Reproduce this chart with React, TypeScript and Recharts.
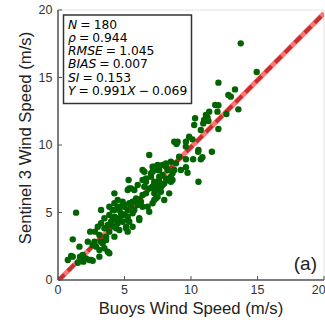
import React from "react";
import {
  ScatterChart,
  Scatter,
  XAxis,
  YAxis,
  CartesianGrid,
  ReferenceLine,
} from "recharts";

const buoySpeed: number[] = [
  1.36, 1.11, 0.99, 0.74, 1.49, 1.61, 2.42, 2.79, 2.24, 2.61, 1.86, 2.11, 2.36, 2.61, 1.91, 1.66,
  3.11, 3.24, 3.36, 3.62, 3.49, 3.11, 3.74, 2.87, 3.74, 3.99, 4.24, 4.11, 4.49, 4.86, 4.99, 4.61,
  5.12, 5.24, 4.37, 3.86, 3.62, 4.24, 5.31, 5.24, 5.49, 3.24, 3.86, 4.24, 4.49, 4.86, 4.99, 5.36,
  5.61, 5.87, 6.11, 6.36, 6.62, 6.86, 7.11, 7.37, 7.61, 7.86, 6.99, 6.62, 6.36, 7.24, 7.49, 8.12,
  7.74, 7.37, 7.11, 6.86, 6.11, 5.61, 5.24, 4.86, 4.49, 4.11, 3.86, 4.24, 4.61, 5.12, 5.61, 5.36,
  5.99, 6.36, 7.24, 8.74, 8.91, 9.62, 9.86, 10.11, 10.24, 10.31, 10.92, 11.24, 10.56, 10.74, 10.16, 9.62,
  9.62, 9.74, 10.56, 6.86, 9.11, 8.87, 8.49, 8.12, 7.86, 7.49, 7.11, 6.49, 6.62, 7.11, 7.61, 8.24,
  8.61, 8.61, 8.12, 7.61, 7.24, 6.49, 7.11, 7.86, 8.49, 9.24, 12.06, 12.81, 12.99, 13.31, 13.56, 11.82,
  12.06, 11.37, 11.99, 11.12, 10.99, 12.66, 11.31, 10.74, 12.06, 13.74, 14.94, 11.57, 10.54, 10.86, 5.36, 5.74,
  5.99, 6.36, 6.99, 7.24, 7.49, 7.74, 7.99, 8.24, 8.49, 8.74, 8.36, 7.99, 7.49, 7.24, 6.74, 6.24,
  5.86, 5.49, 4.99, 4.61, 4.24, 3.86, 3.49, 3.24, 2.99, 4.24, 3.49, 4.74, 5.24, 4.86, 5.24, 4.49,
  6.11, 5.74, 3.86, 3.11, 2.49, 1.11, 2.74, 8.99, 9.61,
];

const sentinelSpeed: number[] = [
  4.99, 3.01, 1.78, 1.48, 1.28, 2.47, 3.58, 3.58, 2.84, 2.59, 1.85, 1.6, 1.48, 1.43, 1.36, 1.73,
  3.33, 2.84, 2.72, 3.21, 2.35, 2.22, 2.1, 2.47, 4.07, 4.32, 4.69, 5.19, 5.43, 5.56, 4.81, 4.44,
  3.95, 3.58, 3.83, 3.58, 2.96, 6.42, 7.41, 6.67, 6.79, 5.19, 5.43, 5.68, 5.93, 5.8, 5.43, 5.68,
  5.8, 6.05, 5.93, 6.3, 6.42, 6.79, 6.91, 7.04, 7.28, 7.78, 7.9, 7.53, 8.15, 8.39, 8.15, 8.39,
  6.54, 6.05, 5.68, 5.06, 4.57, 4.94, 4.69, 4.81, 4.57, 4.44, 4.07, 3.95, 3.7, 3.83, 3.95, 4.32,
  5.56, 5.43, 6.42, 10.24, 10.07, 10.24, 10.61, 10.42, 11.48, 11.98, 11.6, 12.05, 9.63, 8.94, 8.94, 8.94,
  8.35, 7.95, 7.28, 9.26, 9.13, 8.64, 8.76, 8.64, 8.52, 8.52, 8.39, 8.02, 7.28, 8.02, 8.15, 8.15,
  7.9, 7.41, 7.53, 7.65, 7.28, 6.91, 6.79, 7.04, 7.28, 8.15, 14.62, 13.7, 13.58, 14.12, 12.64, 12.96,
  12.94, 12.47, 12.47, 12.22, 11.85, 12.3, 11.78, 11.11, 11.19, 17.53, 15.41, 9.5, 9.5, 9.09, 6.79, 6.67,
  7.04, 7.41, 7.65, 7.16, 6.67, 6.91, 7.16, 7.41, 7.65, 8.15, 6.42, 5.93, 6.17, 5.93, 5.43, 5.8,
  5.93, 5.56, 5.56, 5.19, 5.19, 4.81, 4.57, 4.2, 3.95, 3.21, 3.83, 4.94, 5.19, 4.32, 4.44, 4.2,
  4.44, 5.19, 1.98, 1.73, 1.48, 1.73, 2.84, 10.25, 9.88,
];

const axisTicks: number[] = [0, 5, 10, 15, 20];
const fitSlope = 0.991;
const fitIntercept = -0.069;
const fitRange: number[] = [0, 20];

const statLines: { name: string; value: string }[] = [
  { name: "N", value: "180" },
  { name: "ρ", value: "0.944" },
  { name: "RMSE", value: "1.045" },
  { name: "BIAS", value: "0.007" },
  { name: "SI", value: "0.153" },
];

const data = buoySpeed.map((x, i) => ({ x, y: sentinelSpeed[i] }));

const tickStyle = { fontSize: 12.5, fill: "#333", fontFamily: "Liberation Sans, Arial, sans-serif" };
const axisStroke = { stroke: "#555", strokeWidth: 1.5 };
const SP = "\u2005";

const Dot = (props: any) => (
  <circle cx={props.cx} cy={props.cy} r={3.2} fill="#006400" />
);

export default function App() {
  const [x0, x1] = fitRange;
  return (
    <div style={{ position: "relative", width: 325, height: 322 }}>
      <style>{`body{margin:0}`}</style>
      <ScatterChart
        width={325}
        height={322}
        margin={{ top: 10, right: 1, left: 0, bottom: 0 }}
      >
        <CartesianGrid stroke="#e3e3e3" strokeWidth={1} />
        <XAxis
          xAxisId="b"
          type="number"
          dataKey="x"
          domain={[0, 20]}
          ticks={axisTicks}
          height={42}
          tickSize={-4}
          tickMargin={9}
          tick={tickStyle}
          axisLine={axisStroke}
          tickLine={{ stroke: "#555" }}
          allowDataOverflow
          label={{
            value: "Buoys Wind Speed (m/s)",
            position: "insideBottom",
            offset: 8,
            style: { fontSize: 16.7, fill: "#222", fontFamily: "Liberation Sans, Arial, sans-serif" },
          }}
        />
        <XAxis
          xAxisId="t"
          orientation="top"
          type="number"
          dataKey="x"
          domain={[0, 20]}
          ticks={axisTicks}
          height={0}
          tickSize={-4}
          tickFormatter={() => ""}
          axisLine={axisStroke}
          tickLine={{ stroke: "#555" }}
          allowDataOverflow
        />
        <YAxis
          yAxisId="l"
          type="number"
          dataKey="y"
          domain={[0, 20]}
          ticks={axisTicks}
          width={58}
          tickSize={-4}
          tickMargin={9.5}
          tick={tickStyle}
          axisLine={axisStroke}
          tickLine={{ stroke: "#555" }}
          allowDataOverflow
          label={{
            value: "Sentinel 3 Wind Speed (m/s)",
            angle: -90,
            position: "insideLeft",
            offset: 25,
            dy: -7,
            style: {
              textAnchor: "middle",
              fontSize: 16.7,
              fill: "#222",
              fontFamily: "Liberation Sans, Arial, sans-serif",
            },
          }}
        />
        <YAxis
          yAxisId="r"
          orientation="right"
          type="number"
          dataKey="y"
          domain={[0, 20]}
          ticks={axisTicks}
          width={0}
          tickSize={-4}
          tickFormatter={() => ""}
          axisLine={axisStroke}
          tickLine={{ stroke: "#555" }}
          allowDataOverflow
        />
        <Scatter
          data={data}
          xAxisId="b"
          yAxisId="l"
          shape={Dot}
          isAnimationActive={false}
        />
        <ReferenceLine
          xAxisId="b"
          yAxisId="l"
          segment={[
            { x: x0, y: fitSlope * x0 + fitIntercept },
            { x: x1, y: fitSlope * x1 + fitIntercept },
          ]}
          stroke="rgba(255,60,60,0.7)"
          strokeWidth={5}
          ifOverflow="hidden"
        />
        <ReferenceLine
          xAxisId="b"
          yAxisId="l"
          segment={[
            { x: x0, y: fitSlope * x0 + fitIntercept },
            { x: x1, y: fitSlope * x1 + fitIntercept },
          ]}
          stroke="#c43030"
          strokeWidth={4}
          strokeDasharray="9 5"
          ifOverflow="hidden"
        />
      </ScatterChart>
      <svg
        width={325}
        height={322}
        style={{ position: "absolute", left: 0, top: 0, pointerEvents: "none" }}
      >
        <rect x={63.5} y={15} width={128} height={88.5} fill="#fff" stroke="#333" strokeWidth={1.5} />
        <g fontFamily="DejaVu Sans, sans-serif" fontSize={12.3} fill="#000">
          {statLines.map((s, i) => (
            <text key={s.name} x={68} y={28.7 + i * 13.2}>
              <tspan fontStyle="italic">{s.name}</tspan>
              {SP + "=" + SP + s.value}
            </text>
          ))}
          <text x={68} y={28.7 + 5 * 13.2}>
            <tspan fontStyle="italic">Y</tspan>
            {SP + "=" + SP + fitSlope.toFixed(3)}
            <tspan fontStyle="italic">X</tspan>
            {SP + "−" + SP + Math.abs(fitIntercept).toFixed(3)}
          </text>
        </g>
        <text
          x={317}
          y={270}
          textAnchor="end"
          fontFamily="Liberation Sans, Arial, sans-serif"
          fontSize={19}
          fill="#222"
        >
          (a)
        </text>
      </svg>
    </div>
  );
}
